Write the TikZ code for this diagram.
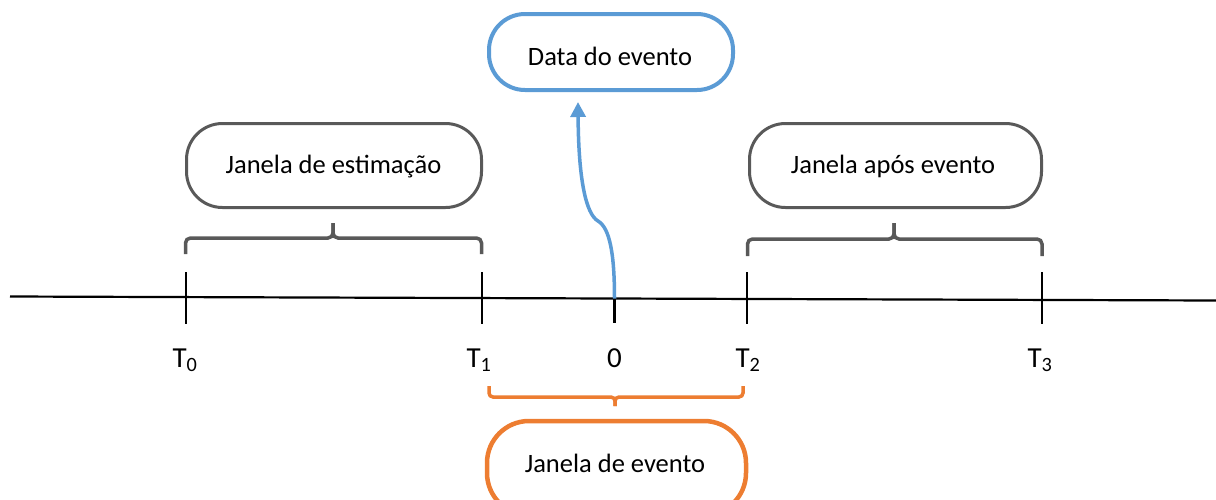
\documentclass[tikz,border=0pt]{standalone}
\usepackage{fontspec}
\setmainfont{Carlito}
\usetikzlibrary{arrows.meta}
\definecolor{oblue}{HTML}{5B9BD5}
\definecolor{oorange}{HTML}{ED7D31}
\definecolor{ogray}{HTML}{595959}
\begin{document}
\begin{tikzpicture}[x=1pt,y=-1pt,
  pill/.style={draw,rectangle,rounded corners=36pt,inner sep=0pt},
  boxtext/.style={anchor=base,font=\fontsize{26.5}{30}\selectfont,inner sep=0pt},
  lbl/.style={anchor=base,font=\fontsize{29}{33}\selectfont,inner sep=0pt},
  tick/.style={line width=1.3pt,black},
  bracegray/.style={draw=ogray,line width=3.5pt,rounded corners=5pt},
  braceorange/.style={draw=oorange,line width=3.5pt,rounded corners=4pt}]
\clip (0,0) rectangle (1216,499);
% boxes
\node[pill,draw=oblue,line width=4pt,minimum width=244pt,minimum height=76pt] (data) at (611,52) {};
\node[boxtext] at (610,65) {Data do evento};
\node[pill,draw=ogray,line width=3pt,minimum width=295pt,minimum height=84pt] (est) at (334,165.5) {};
\node[boxtext] at (333.5,173) {Janela de estimação};
\node[pill,draw=ogray,line width=3pt,minimum width=292pt,minimum height=84pt] (apos) at (895.5,165.5) {};
\node[boxtext] at (893,173) {Janela após evento};
\node[pill,draw=oorange,line width=4.5pt,minimum width=259pt,minimum height=94pt,rounded corners=42pt] (ev) at (616.5,468) {};
\node[boxtext] at (615,472) {Janela de evento};
% timeline
\coordinate (L) at (10,296.5);
\coordinate (R) at (1216,300.5);
\draw[line width=2.2pt] (L) -- (R);
\foreach \n/\x in {t0/186,t1/482,t2/747,t3/1042}{
  \pgfmathsetmacro{\yy}{296.5+(\x-10)*4/1206}
  \coordinate (\n) at (\x,\yy);
  \draw[tick] (\x,272) -- (\x,324);
}
\coordinate (zero) at (614.5,298.5);
\draw[line width=2.6pt] (zero) -- (614.5,323);
% labels
\node[lbl] (l0) at (185,367) {T\textsubscript{0}};
\node[lbl] (l1) at (479,367) {T\textsubscript{1}};
\node[lbl] (lz) at (614.5,367) {0};
\node[lbl] (l2) at (748,367) {T\textsubscript{2}};
\node[lbl] (l3) at (1040,367) {T\textsubscript{3}};
% braces
\draw[bracegray] (185.5,254) -- (185.5,238) -- (333,238) -- (333,223);
\draw[bracegray] (333,223) -- (333,238) -- (481.5,238) -- (481.5,254);
\draw[bracegray] (747.5,256) -- (747.5,239) -- (894,239) -- (894,223);
\draw[bracegray] (894,223) -- (894,239) -- (1042,239) -- (1042,256);
\draw[braceorange] (489,386) -- (489,397) -- (615,397) -- (615,406);
\draw[braceorange] (615,406) -- (615,397) -- (743,397) -- (743,386);
% arrow
\coordinate (dtip) at (578,102);
\draw[oblue,line width=3.5pt,-{Triangle[length=15pt,width=15pt]}]
  (zero) .. controls (614.5,255) and (610,228) .. (598,221)
  .. controls (586,214) and (578.5,180) .. (dtip);
\end{tikzpicture}
\end{document}
